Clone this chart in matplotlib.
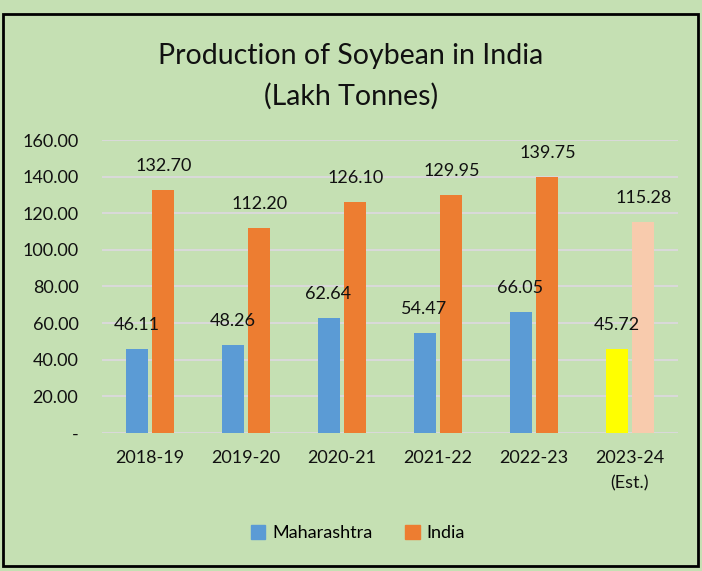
import numpy as np
import matplotlib.pyplot as plt
from matplotlib.patches import Rectangle, Patch

years = ["2018-19", "2019-20", "2020-21", "2021-22", "2022-23", "2023-24\n(Est.)"]
maharashtra = [46.11, 48.26, 62.64, 54.47, 66.05, 45.72]
india = [132.70, 112.20, 126.10, 129.95, 139.75, 115.28]
yticks = [0, 20, 40, 60, 80, 100, 120, 140, 160]

bg = "#C5E0B3"
blue = "#5B9BD5"
orange = "#ED7D31"
mah_colors = [blue] * 5 + ["#FFFF00"]
ind_colors = [orange] * 5 + ["#F8CBAD"]

plt.rcParams['font.family'] = ['Lato', 'DejaVu Sans']

fig = plt.figure(figsize=(7.02, 5.71), dpi=100, facecolor=bg)
ax = fig.add_axes([0.1453, 0.2417, 0.8205, 0.5131], facecolor=bg)

x = np.arange(len(years))
w = 0.229
off = 0.14
ax.bar(x - off, maharashtra, w, color=mah_colors, zorder=3)
ax.bar(x + off, india, w, color=ind_colors, zorder=3)

for xi, v in zip(x - off, maharashtra):
    ax.annotate(f"{v:.2f}", (xi, v), xytext=(0, 11.5), textcoords="offset points",
                ha="center", va="bottom", fontsize=13, color="#111111")
for xi, v in zip(x + off, india):
    ax.annotate(f"{v:.2f}", (xi, v), xytext=(0, 11.5), textcoords="offset points",
                ha="center", va="bottom", fontsize=13, color="#111111")

ax.set_xlim(-0.5, len(years) - 0.5)
ax.set_ylim(0, 160)
ax.set_yticks(yticks)
ax.set_yticklabels(["-" if t == 0 else f"{t:.2f}" for t in yticks])
ax.set_xticks(x)
ax.set_xticklabels(years)
ax.get_xticklabels()[-1].set_linespacing(1.75)
ax.tick_params(axis="y", length=0, pad=17, labelsize=13, labelcolor="#111111")
ax.tick_params(axis="x", length=0, pad=12, labelsize=13, labelcolor="#111111")
ax.grid(axis="y", color="#D9D9D9", linewidth=1.5, zorder=0)
for s in ax.spines.values():
    s.set_visible(False)

fig.text(0.5, 0.902, "Production of Soybean in India", ha="center", va="center",
         fontsize=20.5, color="#111111")
fig.text(0.5, 0.831, "(Lakh Tonnes)", ha="center", va="center",
         fontsize=20.5, color="#111111")

handles = [Patch(color=blue, label="Maharashtra"), Patch(color=orange, label="India")]
fig.legend(handles=handles, loc="center", bbox_to_anchor=(0.51, 0.0665), ncol=2,
           frameon=False, fontsize=13, handlelength=0.8, handleheight=0.8,
           handletextpad=0.4, columnspacing=1.8)

fig.patches.append(Rectangle((3 / 702, 1 - 566 / 571), 695 / 702, 552 / 571,
                             transform=fig.transFigure, fill=False,
                             edgecolor="black", linewidth=2))

fig.savefig("out.png", dpi=100, facecolor=bg)
